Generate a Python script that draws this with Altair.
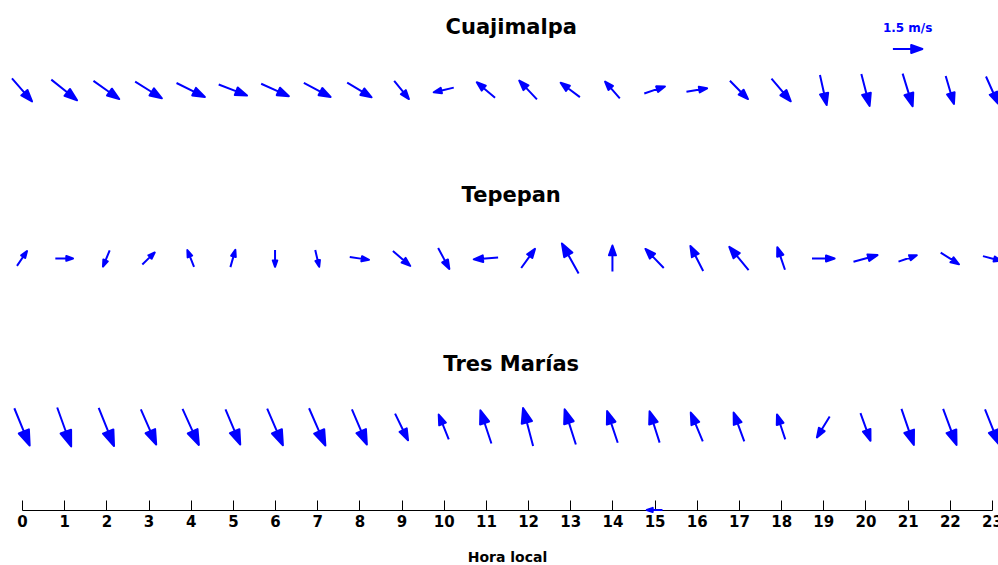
import altair as alt
import pandas as pd

hours = list(range(24))
stations = ["Cuajimalpa", "Tepepan", "Tres Marías"]

# wind components (m/s): u = eastward, v = northward
cuaj_u = [1.02, 1.31, 1.31, 1.36, 1.44, 1.44, 1.41, 1.36, 1.24, 0.75, -1.02, -0.93,
          -0.90, -0.98, -0.75, 1.05, 1.05, 0.92, 0.98, 0.34, 0.42, 0.51, 0.42, 0.61]
cuaj_v = [-1.17, -1.05, -0.93, -0.85, -0.71, -0.56, -0.63, -0.71, -0.75, -0.93, -0.24, 0.78,
          0.95, 0.73, 0.85, 0.36, 0.17, -0.93, -1.15, -1.53, -1.63, -1.66, -1.42, -1.37]
tepe_u = [0.51, 0.90, -0.34, 0.63, -0.34, 0.25, 0.00, 0.20, 0.98, 0.88, 0.57, -1.24,
          0.70, -0.85, 0.00, -0.93, -0.65, -0.98, -0.39, 1.15, 1.22, 0.93, 0.93, 0.92]
tepe_v = [0.75, 0.00, -0.83, 0.61, 0.85, 0.88, -0.85, -0.85, -0.14, -0.76, -1.07, -0.09,
          0.97, 1.53, 1.32, 0.97, 1.27, 1.18, 1.15, 0.00, 0.34, 0.32, -0.59, -0.24]
tres_u = [0.78, 0.71, 0.78, 0.78, 0.83, 0.75, 0.80, 0.83, 0.76, 0.66, -0.51, -0.56,
          -0.51, -0.57, -0.54, -0.51, -0.61, -0.54, -0.42, -0.65, 0.51, 0.63, 0.68, 0.71]
tres_v = [-1.90, -1.98, -1.95, -1.79, -1.83, -1.79, -1.87, -1.90, -1.79, -1.36, 1.26, 1.69,
          1.93, 1.79, 1.61, 1.59, 1.46, 1.46, 1.27, -1.07, -1.41, -1.83, -1.83, -1.78]

# reference vector
key_speed = [1.5]
key_hour = [21]
key_label = ["1.5 m/s"]

# stray vector sitting on the time axis
stray_hour = [15]
stray_u = [-0.8]
stray_v = [0.0]

rows = []
for r, (name, us, vs) in enumerate(zip(stations, [cuaj_u, tepe_u, tres_u], [cuaj_v, tepe_v, tres_v])):
    for h, u, v in zip(hours, us, vs):
        rows.append({"station": name, "row": r, "hour": h, "u": u, "v": v})
df = pd.DataFrame(rows)

Y_TOP, Y_BOTTOM = -0.534, 2.493
st_df = pd.DataFrame({"station": stations, "row": list(range(len(stations)))})
key_df = pd.DataFrame({"hour": key_hour, "row": [0], "u": key_speed, "v": [0.0], "label": key_label})
stray_df = pd.DataFrame({"hour": stray_hour, "row": [Y_BOTTOM], "u": stray_u, "v": stray_v})

FONT = "DejaVu Sans"
BLUE = "#0000ff"
xs = alt.Scale(domain=[0, 23], nice=False, zero=False)
ys = alt.Scale(domain=[Y_TOP, Y_BOTTOM], reverse=True, nice=False, zero=False)
PX_PER_MS = 19.67
arrow_shape = "M0,1L0,-0.3M-0.27,-0.24L0,-1L0.27,-0.24Z"


def arrows(data, xaxis=None, **kw):
    return (
        alt.Chart(data)
        .transform_calculate(
            angle="(atan2(datum.u, datum.v) * 180 / PI + 360) % 360",
            s2="datum.u * datum.u + datum.v * datum.v",
        )
        .mark_point(shape=arrow_shape, filled=True, fill=BLUE, stroke=BLUE,
                    strokeWidth=2, strokeJoin="round", opacity=1, **kw)
        .encode(
            x=alt.X("hour:Q", scale=xs, axis=xaxis),
            y=alt.Y("row:Q", scale=ys, axis=None),
            angle=alt.Angle("angle:Q", scale=None),
            size=alt.Size("s2:Q", scale=alt.Scale(domain=[0, 1], range=[0, PX_PER_MS ** 2]), legend=None),
        )
    )


bottom_axis = alt.Axis(
    orient="bottom", values=hours, domain=False, ticks=False, grid=False,
    labelFont=FONT, labelFontWeight="bold", labelFontSize=15, labelColor="black",
    labelPadding=4, labelFlush=False, labelOverlap=False,
    title="Hora local", titleFont=FONT, titleFontWeight="bold", titleFontSize=14,
    titleColor="black", titlePadding=21,
)
top_axis = alt.Axis(
    orient="top", offset=-510, values=hours, labels=False, title=None, grid=False,
    domain=True, domainColor="black", domainWidth=1,
    ticks=True, tickSize=10, tickColor="black", tickWidth=1,
)

main = arrows(df, xaxis=bottom_axis)
stray = arrows(stray_df, xaxis=top_axis)
key = arrows(key_df, yOffset=-41)

titles = alt.Chart(st_df).mark_text(
    dy=-62, font=FONT, fontSize=21, fontWeight="bold", color="black"
).encode(
    x=alt.XDatum(11.6, type="quantitative", scale=xs, axis=None),
    y=alt.Y("row:Q", scale=ys, axis=None),
    text="station:N",
)
key_text = alt.Chart(key_df).mark_text(
    dy=-62, font=FONT, fontSize=12, fontWeight="bold", color=BLUE
).encode(
    x=alt.X("hour:Q", scale=xs, axis=None),
    y=alt.Y("row:Q", scale=ys, axis=None),
    text="label:N",
)

chart = (
    alt.layer(main, stray, key, titles, key_text)
    .resolve_axis(x="independent")
    .properties(
        width=970, height=510, autosize="none",
        padding={"left": 22, "top": 0, "right": 6, "bottom": 55},
        background="white",
    )
    .configure_view(stroke=None)
)

chart.save("out.html", embed_options={"renderer": "svg", "actions": False})
